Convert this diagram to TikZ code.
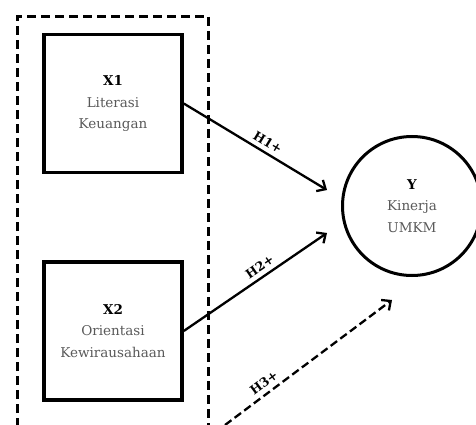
\documentclass[tikz,border=0pt]{standalone}
\usepackage{fontspec}
\setmainfont{DejaVu Serif}
\usetikzlibrary{arrows.meta}

\begin{document}
\begin{tikzpicture}[x=1pt, y=-1pt,
		varbox/.style={draw, line width=3.5pt, minimum width=138pt, minimum height=138pt, align=center, text=black!65, font=\fontsize{13.5}{21.5}\selectfont},
		varcirc/.style={draw, circle, line width=3pt, minimum size=139pt, align=center, text=black!65, font=\fontsize{13.5}{21.5}\selectfont},
		path/.style={line width=2.3pt, -{Straight Barb[length=7pt, width=13pt, line width=2.3pt]}},
		lbl/.style={sloped, above, font=\fontsize{12.5}{14}\selectfont\bfseries, inner sep=4.5pt},
	]
		\useasboundingbox (0,0) rectangle (476,425);
		\draw[line width=3.2pt, dash pattern=on 9pt off 5pt] (17.5,427) -- (17.5,16.5) -- (208.5,16.5) -- (208.5,427);
	
		\node[varbox] (x1) at (113,103.5) {\textcolor{black}{\textbf{X1}}\\Literasi\\Keuangan};
		\node[varbox] (x2) at (113,331) {\textcolor{black}{\textbf{X2}}\\Orientasi\\Kewirausahaan};
		\node[varcirc] (y) at (412,206) {\textcolor{black}{\textbf{Y}}\\Kinerja\\UMKM};
		
		\coordinate (h1end) at (327,190);
		\coordinate (h2end) at (327,233);
		\coordinate (h3start) at (225,425);
		\coordinate (h3end) at (392,300);
		
		\draw[path] (x1.east) -- (h1end) node[lbl, pos=0.55] {H1+};
		\draw[path] (x2.east) -- (h2end) node[lbl, pos=0.57] {H2+};
		\draw[path, dash pattern=on 8pt off 4pt] (h3start) -- (h3end) node[lbl, pos=0.27] {H3+};
	\end{tikzpicture}
\end{document}
